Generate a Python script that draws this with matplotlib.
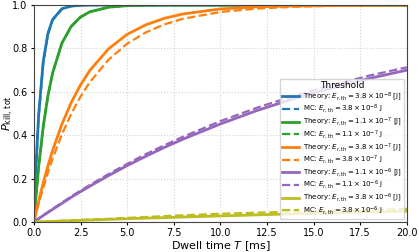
import numpy as np
import matplotlib
matplotlib.use("Agg")
import matplotlib.pyplot as plt

# dwell time grid [ms]
T = [0, 0.1, 0.25, 0.5, 0.75, 1, 1.5, 2, 2.5, 3, 4, 5, 6, 7, 8, 10, 12, 14, 16, 18, 20]

thresholds = ["3.8", "1.1", "3.8", "1.1", "3.8"]
exponents = ["-8", "-7", "-7", "-6", "-6"]
colors = ["tab:blue", "tab:green", "tab:orange", "tab:purple", "tab:olive"]

theory_1 = [0, 0.237, 0.491, 0.741, 0.869, 0.933, 0.983, 0.995, 0.999, 1.0, 1.0, 1.0, 1.0, 1.0, 1.0, 1.0, 1.0, 1.0, 1.0, 1.0, 1.0]
mc_1 = [0, 0.232, 0.483, 0.735, 0.865, 0.930, 0.982, 0.995, 0.999, 1.0, 1.0, 1.0, 1.0, 1.0, 1.0, 1.0, 1.0, 1.0, 1.0, 1.0, 1.0]
theory_2 = [0, 0.110, 0.252, 0.441, 0.582, 0.687, 0.825, 0.902, 0.945, 0.969, 0.990, 0.997, 0.999, 1.0, 1.0, 1.0, 1.0, 1.0, 1.0, 1.0, 1.0]
mc_2 = [0, 0.108, 0.250, 0.439, 0.580, 0.685, 0.823, 0.900, 0.944, 0.968, 0.990, 0.997, 0.999, 1.0, 1.0, 1.0, 1.0, 1.0, 1.0, 1.0, 1.0]
theory_3 = [0, 0.039, 0.095, 0.181, 0.259, 0.330, 0.451, 0.551, 0.632, 0.699, 0.798, 0.865, 0.909, 0.939, 0.959, 0.982, 0.992, 0.996, 0.998, 0.999, 1.0]
mc_3 = [0, 0.034, 0.083, 0.158, 0.228, 0.292, 0.404, 0.498, 0.578, 0.645, 0.748, 0.822, 0.874, 0.911, 0.937, 0.968, 0.984, 0.992, 0.996, 0.998, 0.999]
theory_4 = [0, 0.006, 0.015, 0.030, 0.044, 0.058, 0.086, 0.114, 0.140, 0.165, 0.214, 0.260, 0.303, 0.344, 0.382, 0.452, 0.515, 0.570, 0.619, 0.662, 0.700]
mc_4 = [0, 0.006, 0.016, 0.031, 0.046, 0.061, 0.089, 0.118, 0.145, 0.171, 0.221, 0.268, 0.313, 0.354, 0.393, 0.465, 0.528, 0.583, 0.632, 0.675, 0.713]
theory_5 = [0, 0.0003, 0.0007, 0.0015, 0.0022, 0.003, 0.0045, 0.006, 0.0075, 0.009, 0.012, 0.015, 0.018, 0.020, 0.023, 0.028, 0.033, 0.038, 0.042, 0.046, 0.050]
mc_5 = [0, 0.0004, 0.001, 0.002, 0.003, 0.004, 0.006, 0.008, 0.010, 0.012, 0.015, 0.019, 0.023, 0.027, 0.031, 0.038, 0.043, 0.048, 0.052, 0.056, 0.060]

theory = [theory_1, theory_2, theory_3, theory_4, theory_5]
mc = [mc_1, mc_2, mc_3, mc_4, mc_5]

fig = plt.figure(figsize=(4.19, 2.52), dpi=100)
ax = fig.add_axes([0.081, 0.119, 0.890, 0.861])

for th, ex, c, yt, ym in zip(thresholds, exponents, colors, theory, mc):
    e = r"$E_{r,\mathrm{th}} = %s \times 10^{%s}$" % (th, ex)
    ax.plot(T, yt, color=c, lw=2, label="Theory: " + e + " [J]")
    ax.plot(T, ym, color=c, lw=1.6, ls="--", label="MC: " + e + " J")

ax.set_xlim(0, 20)
ax.set_ylim(0, 1.0)
ax.set_xticks(np.arange(0, 20.1, 2.5))
ax.set_yticks(np.arange(0, 1.01, 0.2))
ax.tick_params(labelsize=7, length=2.5, pad=2)
ax.set_xlabel(r"Dwell time $T$ [ms]", fontsize=8, labelpad=1)
ax.set_ylabel(r"$P_{\mathrm{kill,\,tot}}$", fontsize=8)
ax.yaxis.set_label_coords(-0.047, 0.5)
ax.grid(True, ls=":", color="lightgrey", lw=0.8)
for s in ax.spines.values():
    s.set_color("#444444")

ax.legend(title="Threshold", loc="lower right", fontsize=5.0, title_fontsize=6.5,
          handlelength=2.4, labelspacing=0.02, borderpad=0.35, handletextpad=0.5,
          borderaxespad=0.4)

fig.savefig("out.png", dpi=100)
